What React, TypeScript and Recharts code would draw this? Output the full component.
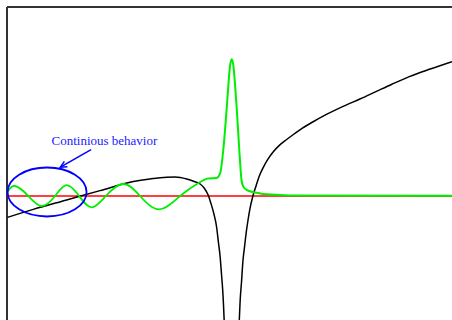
import React from "react";
import { LineChart, Line, XAxis, YAxis, ReferenceDot, ReferenceLine } from "recharts";

// Red baseline
const redX = [0, 10];
const redY = [0, 0];

// Green: oscillating part
const greenWaveX = [0.01, 0.18, 0.48, 0.78, 1.08, 1.34, 1.62, 1.9, 2.22, 2.61, 2.99, 3.42, 3.89, 4.34, 4.52];
const greenWaveY = [0.19, 0.5, 0.0, -0.5, 0.0, 0.54, 0.0, -0.57, 0.0, 0.6, 0.0, -0.67, 0.0, 0.7, 0.88];

// Green: peak and decay
const greenPeakX = [4.52, 4.71, 4.79, 4.86, 4.94, 4.98, 5.01, 5.05, 5.09, 5.12, 5.16, 5.22, 5.27, 5.31, 5.39, 5.69, 6.13, 6.58, 10.0];
const greenPeakY = [0.88, 0.9, 1.14, 2.3, 4.47, 5.7, 6.47, 6.84, 6.47, 5.7, 4.47, 2.3, 0.8, 0.47, 0.3, 0.13, 0.05, 0.02, 0.01];

// Black curve, left branch (before the pole)
const blackLeftX = [0.01, 0.59, 1.34, 2.09, 2.84, 3.21, 3.59, 3.78, 4.04, 4.22, 4.34, 4.43, 4.52, 4.58, 4.65, 4.71, 4.75, 4.79, 4.82, 4.85, 4.88, 4.9];
const blackLeftY = [-1.07, -0.67, -0.2, 0.27, 0.72, 0.85, 0.94, 0.95, 0.85, 0.71, 0.6, 0.4, 0.05, -0.35, -0.9, -1.55, -2.3, -3.05, -3.9, -4.8, -6.2, -7.45];

// Black curve, right branch (after the pole)
const blackRightX = [5.2, 5.22, 5.24, 5.27, 5.3, 5.34, 5.38, 5.42, 5.46, 5.52, 5.6, 5.67, 5.76, 5.86, 5.98, 6.12, 6.27, 6.42, 6.63, 6.87, 7.19, 7.54, 7.93, 8.29, 8.65, 9.04, 9.51, 10.0];
const blackRightY = [-7.45, -6.2, -5.2, -4.3, -3.3, -2.5, -1.75, -1.15, -0.63, -0.05, 0.53, 1.0, 1.43, 1.83, 2.2, 2.53, 2.8, 3.05, 3.38, 3.7, 4.09, 4.47, 4.85, 5.22, 5.59, 5.97, 6.35, 6.72];

const label = "Continious behavior";

const zip = (xs: number[], ys: number[]) => xs.map((x, i) => ({ x, y: ys[i] }));

const redData = zip(redX, redY);
const greenWave = zip(greenWaveX, greenWaveY);
const greenPeak = zip(greenPeakX, greenPeakY);
const blackLeft = zip(blackLeftX, blackLeftY);
const blackRight = zip(blackRightX, blackRightY);

const EllipseShape = (props: any) => (
  <ellipse cx={props.cx} cy={props.cy} rx={39.5} ry={24.5} fill="none" stroke="#0000ff" strokeWidth={1.8} />
);

const TextShape = (props: any) => (
  <text x={props.cx} y={props.cy} fill="#2222ff" fontFamily="'Liberation Serif', serif" fontSize={13}>
    {label}
  </text>
);

const ArrowShape = (props: any) => {
  const { x1, y1, x2, y2 } = props;
  const ang = Math.atan2(y2 - y1, x2 - x1);
  const L = 7;
  const a1 = ang + Math.PI - 0.45;
  const a2 = ang + Math.PI + 0.45;
  return (
    <g>
      <line x1={x1} y1={y1} x2={x2} y2={y2} stroke="#0000ff" strokeWidth={1.5} />
      <polyline
        points={`${x2 + L * Math.cos(a1)},${y2 + L * Math.sin(a1)} ${x2},${y2} ${x2 + L * Math.cos(a2)},${y2 + L * Math.sin(a2)}`}
        fill="none"
        stroke="#0000ff"
        strokeWidth={1.5}
      />
    </g>
  );
};

const common = { dataKey: "y", dot: false, activeDot: false, isAnimationActive: false } as const;

export default function App() {
  return (
    <div style={{ position: "absolute", left: 0, top: 0, width: 452, height: 320, overflow: "hidden", background: "#fff" }}>
      <LineChart width={452} height={320} margin={{ top: 7, left: 7, right: 0, bottom: 0 }}>
        <XAxis dataKey="x" type="number" domain={[0, 10]} allowDataOverflow hide />
        <YAxis dataKey="y" type="number" domain={[-6.2, 9.45]} allowDataOverflow hide />
        <ReferenceLine x={0} stroke="#333" strokeWidth={2} />
        <ReferenceLine y={9.45} stroke="#333" strokeWidth={2} />
        <Line {...common} data={redData} type="linear" stroke="#ff0000" strokeWidth={1.5} />
        <Line {...common} data={blackLeft} type="monotone" stroke="#000" strokeWidth={1.5} />
        <Line {...common} data={blackRight} type="monotone" stroke="#000" strokeWidth={1.5} />
        <Line {...common} data={greenWave} type="natural" stroke="#00ee00" strokeWidth={1.8} />
        <Line {...common} data={greenPeak} type="monotone" stroke="#00ee00" strokeWidth={2} />
        <ReferenceDot x={0.9} y={0.2} shape={EllipseShape} />
        <ReferenceDot x={1.0} y={2.535} shape={TextShape} />
        <ReferenceLine segment={[{ x: 1.89, y: 2.32 }, { x: 1.2, y: 1.44 }]} shape={ArrowShape} />
      </LineChart>
    </div>
  );
}
